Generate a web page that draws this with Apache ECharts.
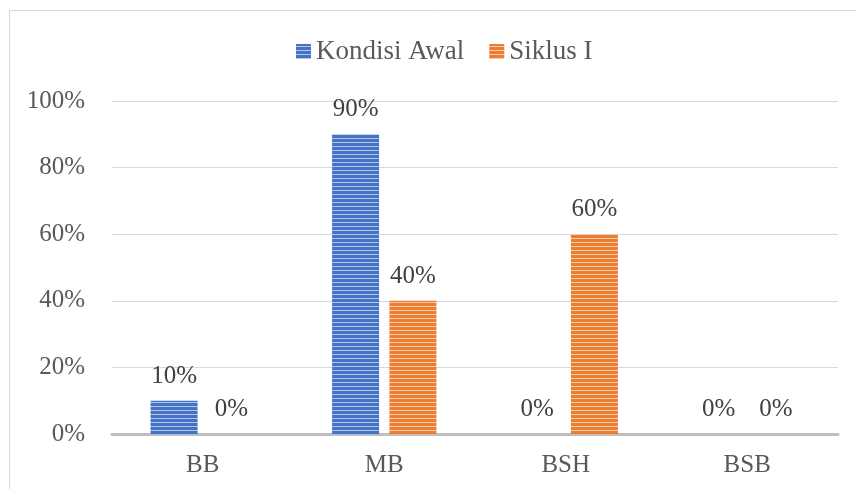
<!DOCTYPE html>
<html><head><meta charset="utf-8">
<script src="https://cdn.jsdelivr.net/npm/echarts@6/dist/echarts.min.js"></script>
<style>html,body{margin:0;padding:0;background:#fff}#c{width:856px;height:489px}</style>
</head><body><div id="c"></div>
<script>
const categories = ['BB', 'MB', 'BSH', 'BSB'];
const seriesNames = ['Kondisi Awal', 'Siklus I'];
const kondisiAwal = [0.10, 0.90, 0, 0];
const siklusI = [0, 0.40, 0.60, 0];
const yTicks = [0, 0.2, 0.4, 0.6, 0.8, 1.0];

function stripe(main, light) {
  const c = document.createElement('canvas');
  c.width = 4; c.height = 4;
  const g = c.getContext('2d');
  g.fillStyle = main; g.fillRect(0, 0, 4, 4);
  g.fillStyle = light; g.fillRect(0, 2, 4, 1);
  return { image: c, repeat: 'repeat' };
}
const bluePat = stripe('#4472C4', '#b4c6e7');
const orangePat = stripe('#ED7D31', '#f8cbad');
const font = '"Liberation Serif", "Times New Roman", serif';
const FS = 25;
const pct = v => Math.round(v * 100) + '%';

const chart = echarts.init(document.getElementById('c'), null, { renderer: 'canvas' });
chart.setOption({
  animation: false,
  backgroundColor: '#fff',
  graphic: [{ type: 'rect', shape: { x: 9.5, y: 10.5, width: 900, height: 600 }, style: { fill: 'none', stroke: '#d9d9d9', lineWidth: 1 } }],
  legend: {
    top: 33, left: 291, itemWidth: 15, itemHeight: 15, itemGap: 25,
    textStyle: { fontFamily: font, fontSize: 27, color: '#595959' },
    data: [
      { name: seriesNames[0], icon: 'rect', itemStyle: { color: bluePat } },
      { name: seriesNames[1], icon: 'rect', itemStyle: { color: orangePat } }
    ]
  },
  grid: { left: 112, right: 18, top: 101, bottom: 55 },
  xAxis: {
    type: 'category', data: categories,
    axisLine: { lineStyle: { color: '#bfbfbf', width: 3 } },
    axisTick: { show: false },
    axisLabel: { fontFamily: font, fontSize: FS, color: '#595959', margin: 19 }
  },
  yAxis: {
    type: 'value', min: yTicks[0], max: yTicks[yTicks.length - 1], interval: 0.2,
    axisLine: { show: false }, axisTick: { show: false },
    splitLine: { lineStyle: { color: '#d9d9d9', width: 1 } },
    axisLabel: { fontFamily: font, fontSize: FS, color: '#595959', margin: 27, formatter: pct }
  },
  series: [
    {
      name: seriesNames[0], type: 'bar', data: kondisiAwal, barWidth: 47, barGap: '22%',
      itemStyle: { color: bluePat },
      label: { show: true, position: 'top', distance: 12, fontFamily: font, fontSize: FS, color: '#404040', formatter: p => pct(p.value) }
    },
    {
      name: seriesNames[1], type: 'bar', data: siklusI, barWidth: 47,
      itemStyle: { color: orangePat },
      label: { show: true, position: 'top', distance: 12, fontFamily: font, fontSize: FS, color: '#404040', formatter: p => pct(p.value) }
    }
  ]
});
</script></body></html>
